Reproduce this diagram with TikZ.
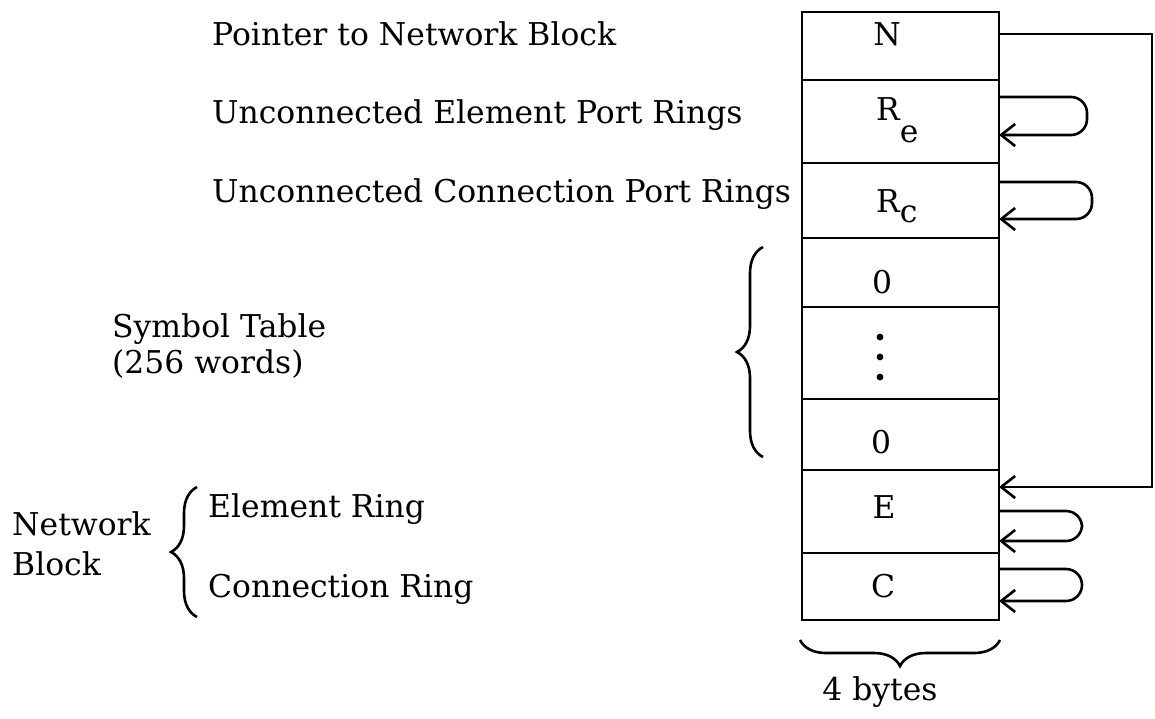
\documentclass[tikz,border=0pt]{standalone}
\usepackage{fontspec}
\setmainfont{DejaVu Serif}
\usetikzlibrary{arrows.meta,decorations.pathreplacing}
\tikzset{
  cell/.style={draw, line width=2.6pt, minimum width=197pt, inner sep=0pt, outer sep=0pt},
  lbl/.style={anchor=base west, inner sep=0pt, font=\fontsize{31.4}{38}\selectfont},
  ctext/.style={anchor=base, inner sep=0pt, font=\fontsize{31.4}{38}\selectfont},
  ptr/.style={line width=2.6pt, -{Straight Barb[length=14pt,width=22pt,line width=2.6pt]}},
  loop/.style={ptr, rounded corners=16pt},
  brc/.style={line width=2.6pt, decorate, decoration={brace, amplitude=26pt}}
}
\begin{document}
\begin{tikzpicture}[x=1pt,y=-1pt]
\useasboundingbox (0,0) rectangle (1155,718);
% cells
\node[cell, minimum height=68pt] (cN) at (900.5,46) {};
\node[cell, minimum height=83pt] (cRe) at (900.5,121.5) {};
\node[cell, minimum height=75pt] (cRc) at (900.5,200.5) {};
\node[cell, minimum height=69pt] (cZa) at (900.5,272.5) {};
\node[cell, minimum height=92pt] (cD) at (900.5,353) {};
\node[cell, minimum height=71pt] (cZb) at (900.5,434.5) {};
\node[cell, minimum height=83pt] (cE) at (900.5,511.5) {};
\node[cell, minimum height=67pt] (cC) at (900.5,586.5) {};
% cell texts
\node[ctext] (tN) at (887,45) {N};
\node[ctext, anchor=base west] (tRe) at (876,120) {R\raisebox{-22pt}{e}};
\node[ctext, anchor=base west] (tRc) at (876,212) {R\raisebox{-10pt}{c}};
\node[ctext] (tZa) at (882,293) {0};
\node[ctext] (tZb) at (881,453) {0};
\node[ctext] (tE) at (884,518) {E};
\node[ctext] (tC) at (883,597) {C};
\fill (880,337) circle (3.4pt) (880,357) circle (3.4pt) (880,377) circle (3.4pt);
% labels
\node[lbl] (lP) at (212,45) {Pointer to Network Block};
\node[lbl] (lUE) at (212,123) {Unconnected Element Port Rings};
\node[lbl] (lUC) at (212,202) {Unconnected Connection Port Rings};
\node[lbl] (lS) at (112,337) {Symbol Table};
\node[lbl] (lW) at (112,373) {(256 words)};
\node[lbl] (lNw) at (12,535) {Network};
\node[lbl] (lB) at (12,575) {Block};
\node[lbl] (lER) at (208,517) {Element Ring};
\node[lbl] (lCR) at (208,597) {Connection Ring};
\node[ctext] (l4) at (880,700) {4 bytes};
% braces
\draw[brc] (763,457) -- (763,247);
\draw[brc] (197,617) -- (197,487);
\draw[brc] (1000,640) -- (800,640);
% pointers
\draw[ptr] ([yshift=12pt]cN.east) -- (1152,34) -- (1152,487) -- ([yshift=24.5pt]cE.east);
\draw[loop] ([yshift=24.5pt]cRe.east) -- (1087,97) -- (1087,135) -- ([yshift=-13.5pt]cRe.east);
\draw[loop] ([yshift=18.5pt]cRc.east) -- (1092,182) -- (1092,219) -- ([yshift=-18.5pt]cRc.east);
\draw[loop] ([yshift=0.5pt]cE.east) -- (1082,511) -- (1082,541) -- ([yshift=-29.5pt]cE.east);
\draw[loop] ([yshift=17.5pt]cC.east) -- (1082,569) -- (1082,601) -- ([yshift=-14.5pt]cC.east);
\end{tikzpicture}
\end{document}
